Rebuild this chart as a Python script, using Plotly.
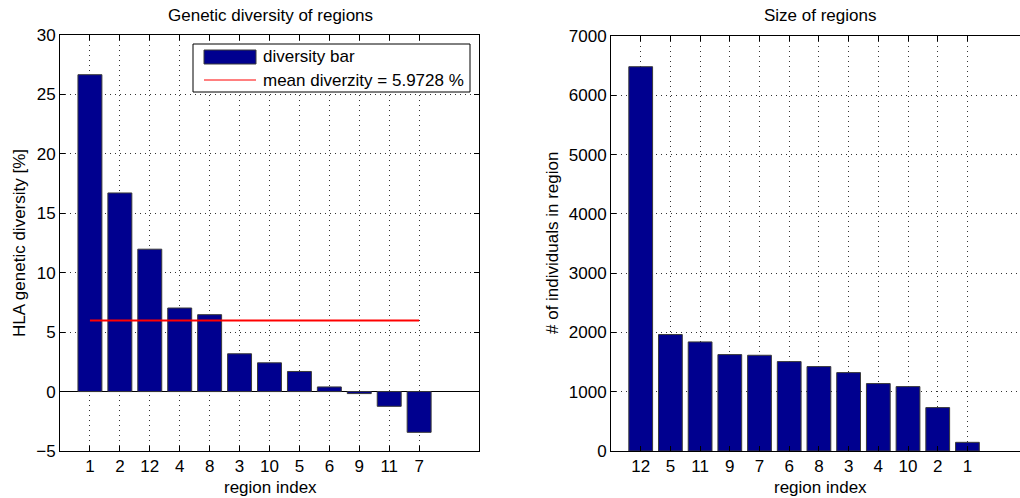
import plotly.graph_objects as go

# Genetic diversity per region (sorted, descending)
div_regions = ["1", "2", "12", "4", "8", "3", "10", "5", "6", "9", "11", "7"]
div_values = [26.66, 16.71, 11.98, 7.03, 6.47, 3.18, 2.42, 1.69, 0.39, -0.17, -1.24, -3.43]
mean_diversity = 5.9728

# Number of individuals per region (sorted, descending)
size_regions = ["12", "5", "11", "9", "7", "6", "8", "3", "4", "10", "2", "1"]
size_values = [6482, 1964, 1840, 1626, 1615, 1508, 1424, 1322, 1137, 1086, 732, 146]

W, H = 1020, 498
FONT = "Liberation Sans, Arial, Helvetica, sans-serif"
BAR = "#00008F"
FS = 17


def px(x):
    return x / W


def py(y):
    return 1 - y / H


fig = go.Figure()

fig.add_trace(go.Bar(
    x=div_regions, y=div_values, width=0.8,
    marker=dict(color=BAR, line=dict(color="#3a3a3a", width=1)),
    xaxis="x", yaxis="y", showlegend=False,
))
fig.add_trace(go.Scatter(
    x=[div_regions[0], div_regions[-1]], y=[mean_diversity, mean_diversity],
    mode="lines", line=dict(color="#FF0000", width=2),
    xaxis="x", yaxis="y", showlegend=False,
))
fig.add_trace(go.Bar(
    x=size_regions, y=size_values, width=0.8,
    marker=dict(color=BAR, line=dict(color="#3a3a3a", width=1)),
    xaxis="x2", yaxis="y2", showlegend=False,
))

grid = dict(showgrid=True, gridcolor="#333333", gridwidth=1, griddash="1px,4px")
axis_common = dict(
    showline=True, linecolor="black", linewidth=1, automargin=False,
    ticks="inside", ticklen=5, tickcolor="black",
    tickfont=dict(family=FONT, size=FS, color="black"),
    **grid,
)

fig.update_layout(
    template="none",
    width=W, height=H,
    margin=dict(l=0, r=0, t=0, b=0, pad=0),
    paper_bgcolor="white", plot_bgcolor="white",
    font=dict(family=FONT, size=FS, color="black"),
    bargap=0.2,
    xaxis=dict(domain=[px(60), px(479)], anchor="y", type="category",
               range=[-1, 13], mirror="ticks", zeroline=False, **axis_common),
    yaxis=dict(domain=[py(451), py(35)], anchor="x", range=[-5, 30],
               tickvals=[-5, 0, 5, 10, 15, 20, 25, 30], mirror="ticks",
               zeroline=True, zerolinecolor="black", zerolinewidth=1,
               **axis_common),
    xaxis2=dict(domain=[px(611), 1.0], anchor="y2", type="category",
                range=[-1, 12.77], mirror="ticks", zeroline=False, **axis_common),
    yaxis2=dict(domain=[py(451), py(36)], anchor="x2", range=[0, 7000],
                tickvals=list(range(0, 7001, 1000)), mirror=False,
                zeroline=False, **axis_common),
)

# Titles and axis labels
def label(text, x, y, angle=0, size=FS):
    fig.add_annotation(text=text, x=px(x), y=py(y), xref="paper", yref="paper",
                       showarrow=False, textangle=angle,
                       font=dict(family=FONT, size=size, color="black"),
                       xanchor="center", yanchor="middle")

label("Genetic diversity of regions", 270, 16)
label("Size of regions", 820, 16)
label("region index", 270, 487)
label("region index", 820, 487)
label("HLA genetic diversity [%]", 19, 243, -90)
label("# of individuals in region", 552, 243, -90)

# Legend box for the diversity panel
fig.add_shape(type="rect", xref="paper", yref="paper",
              x0=px(193), x1=px(470), y0=py(92), y1=py(44),
              line=dict(color="black", width=1), fillcolor="white", layer="above")
fig.add_shape(type="rect", xref="paper", yref="paper",
              x0=px(204), x1=px(256), y0=py(64), y1=py(50),
              line=dict(color="#3a3a3a", width=1), fillcolor=BAR, layer="above")
fig.add_shape(type="line", xref="paper", yref="paper",
              x0=px(204), x1=px(256), y0=py(80), y1=py(80),
              line=dict(color="#FF0000", width=1), layer="above")
fig.add_annotation(text="diversity bar", x=px(261), y=py(57), xref="paper", yref="paper",
                   showarrow=False, xanchor="left", yanchor="middle",
                   font=dict(family=FONT, size=FS, color="black"))
fig.add_annotation(text=f"mean diverzity = {mean_diversity} %", x=px(261), y=py(80),
                   xref="paper", yref="paper", showarrow=False,
                   xanchor="left", yanchor="middle",
                   font=dict(family=FONT, size=FS, color="black"))

fig.write_html("out.html")
